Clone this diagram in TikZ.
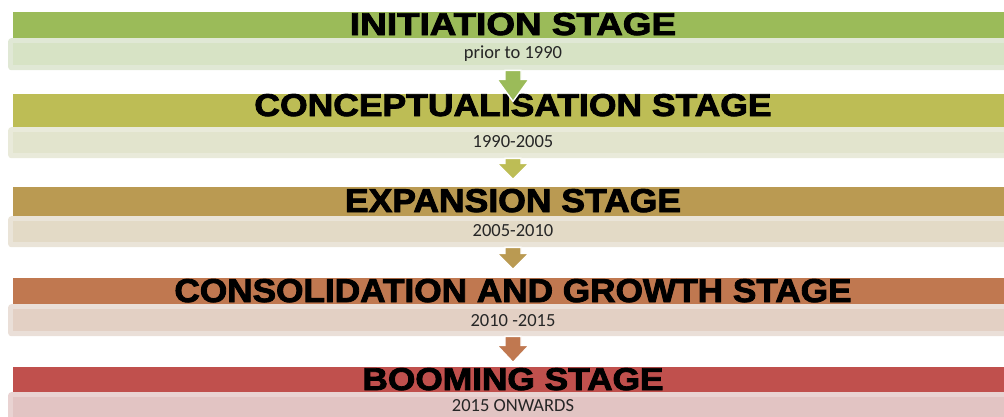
\documentclass[tikz,border=0pt]{standalone}
\usepackage{fontspec}
\setmainfont{Liberation Sans}
\newfontfamily\titlefont{Liberation Sans}[BoldFeatures={FakeBold=2.5}]
\newfontfamily\datefont{Carlito}
\usepackage{graphicx}

% stage colours: bar, date-box rim, date-box fill
\definecolor{barA}{HTML}{9BBB59}\definecolor{rimA}{HTML}{E0E8D5}\definecolor{boxA}{HTML}{D7E3C5}
\definecolor{barB}{HTML}{BDBD55}\definecolor{rimB}{HTML}{E9EADA}\definecolor{boxB}{HTML}{E2E4CD}
\definecolor{barC}{HTML}{BA9A52}\definecolor{rimC}{HTML}{EAE4D8}\definecolor{boxC}{HTML}{E3DAC6}
\definecolor{barD}{HTML}{C07850}\definecolor{rimD}{HTML}{EADFD8}\definecolor{boxD}{HTML}{E3D0C4}
\definecolor{barE}{HTML}{C0504D}\definecolor{rimE}{HTML}{E9D3D2}\definecolor{boxE}{HTML}{E2C4C3}

\tikzset{
  stagebar/.style={rectangle, draw=none, inner sep=0, minimum width=1000bp, anchor=north west},
  daterim/.style={rectangle, rounded corners=3bp, draw=none, inner sep=0, minimum width=1010bp, anchor=north west},
  datefill/.style={rectangle, draw=none, inner sep=0, minimum width=1000bp, anchor=north west},
  stagetitle/.style={inner sep=0, anchor=base, font=\titlefont\bfseries, text=black},
  datetext/.style={inner sep=0, font=\datefont\fontsize{18.5bp}{20bp}\selectfont, text=black!85},
  blockarrow/.style={draw=white, line width=1.4bp, line join=miter}
}

% down block arrow: start point, shaft length, head length, colour
\newcommand{\stagearrow}[4]{%
  \filldraw[blockarrow, fill=#4] (#1) ++(8,0) -- ++(0,#2) -- ++(8,0) -- ++(-16,#3)
    -- ++(-16,-#3) -- ++(8,0) -- ++(0,-#2) -- cycle;}

\begin{document}
\begin{tikzpicture}[x=1bp, y=-1bp]
\useasboundingbox (0,0) rectangle (1004,416);
\clip (0,0) rectangle (1004,416);

% ---- stage 1
\node[stagebar, fill=barA, minimum height=26bp] (h1) at (13,12) {};
\node[daterim, fill=rimA, minimum height=32bp] (r1) at (8,38) {};
\node[datefill, fill=boxA, minimum height=22bp] (f1) at (13,43) {};
\node[stagetitle] (t1) at (513,35) {\resizebox{326bp}{22bp}{INITIATION STAGE}};
\node[datetext] (s1) at (513,54) {prior to 1990};

% ---- stage 2
\node[stagebar, fill=barB, minimum height=33bp] (h2) at (13,94) {};
\node[daterim, fill=rimB, minimum height=31bp] (r2) at (8,127) {};
\node[datefill, fill=boxB, minimum height=21bp] (f2) at (13,132) {};
\node[stagetitle] (t2) at (513,116) {\resizebox{517bp}{22bp}{CONCEPTUALISATION STAGE}};
\node[datetext] (s2) at (513,142) {1990-2005};

% ---- stage 3
\node[stagebar, fill=barC, minimum height=29bp] (h3) at (13,187) {};
\node[daterim, fill=rimC, minimum height=31bp] (r3) at (8,216) {};
\node[datefill, fill=boxC, minimum height=21bp] (f3) at (13,221) {};
\node[stagetitle] (t3) at (513,212) {\resizebox{336bp}{23bp}{EXPANSION STAGE}};
\node[datetext] (s3) at (513,231) {2005-2010};

% ---- stage 4
\node[stagebar, fill=barD, minimum height=26bp] (h4) at (13,278) {};
\node[daterim, fill=rimD, minimum height=32bp] (r4) at (8,304) {};
\node[datefill, fill=boxD, minimum height=22bp] (f4) at (13,309) {};
\node[stagetitle] (t4) at (513,302) {\resizebox{677bp}{23bp}{CONSOLIDATION AND GROWTH STAGE}};
\node[datetext] (s4) at (513,321) {2010 -2015};

% ---- stage 5
\node[stagebar, fill=barE, minimum height=25bp] (h5) at (13,367) {};
\node[daterim, fill=rimE, minimum height=32bp] (r5) at (8,392) {};
\node[datefill, fill=boxE, minimum height=22bp] (f5) at (13,397) {};
\node[stagetitle] (t5) at (513,390) {\resizebox{301bp}{22bp}{BOOMING STAGE}};
\node[datetext] (s5) at (513,406) {2015 ONWARDS};

% ---- arrows between stages
\stagearrow{s1 |- r1.south}{9}{22}{barA}
\stagearrow{s2 |- r2.south}{5}{16}{barB}
\stagearrow{s3 |- r3.south}{6}{16}{barC}
\stagearrow{s4 |- r4.south}{9}{17}{barD}

\end{tikzpicture}
\end{document}
